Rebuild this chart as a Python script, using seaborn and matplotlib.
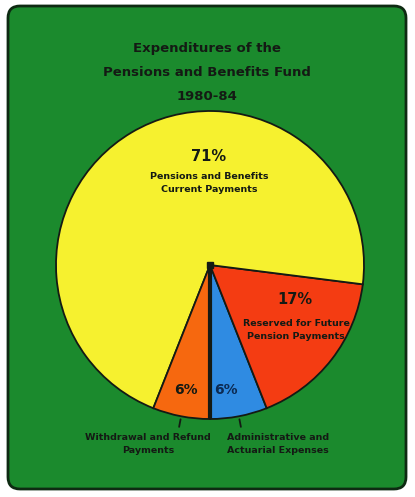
"""Pie chart: Expenditures of the Pensions and Benefits Fund, 1980-84."""

import matplotlib.pyplot as plt
import numpy as np
import seaborn as sns
from matplotlib.patches import FancyBboxPatch

# --- data -------------------------------------------------------------
categories = [
    "Administrative and\nActuarial Expenses",
    "Reserved for Future\nPension Payments",
    "Pensions and Benefits\nCurrent Payments",
    "Withdrawal and Refund\nPayments",
]
shares = [6, 17, 71, 6]
slice_colors = ["#2f8be2", "#f43c12", "#f6f12f", "#f6680f"]

TITLE = "Expenditures of the\nPensions and Benefits Fund\n1980-84"
GREEN = "#1b8a2d"
INK = "#141a14"

sns.set_theme(style="white")
plt.rcParams["font.family"] = ["DejaVu Sans"]

W, H = 415, 497
fig = plt.figure(figsize=(W / 100, H / 100), dpi=100)
fig.patch.set_facecolor("white")


def px(x, y):
    """Pixel position (top-left origin) -> figure fraction."""
    return x / W, 1 - y / H


# green rounded panel
bg = fig.add_axes([0, 0, 1, 1])
bg.set_xlim(0, W)
bg.set_ylim(H, 0)
bg.axis("off")
bg.add_patch(FancyBboxPatch((8, 6), 398, 483, boxstyle="round,pad=0,rounding_size=12",
                            facecolor=GREEN, edgecolor="#0e2a12", linewidth=2))

# pie axes: centre ~ (210, 265) px, radius ~154 px
cx, cy, r = 210, 265, 154
ax = fig.add_axes([(cx - r) / W, (H - cy - r) / H, 2 * r / W, 2 * r / H])
wedges, _ = ax.pie(shares, colors=slice_colors, startangle=270, counterclock=True,
                   radius=1, wedgeprops=dict(edgecolor=INK, linewidth=1.3))
ax.set_xlim(-1, 1)
ax.set_ylim(-1, 1)
ax.axis("off")
ax.plot([0, 0], [0, -1], color=INK, linewidth=3, solid_capstyle="butt", clip_on=False)
ax.plot(0, 0, "s", color=INK, markersize=4)

# small leader ticks under the two small slices
for w in (wedges[0], wedges[3]):
    mid = np.deg2rad((w.theta1 + w.theta2) / 2)
    ax.plot([1.02 * np.cos(mid), 1.07 * np.cos(mid)],
            [1.02 * np.sin(mid), 1.07 * np.sin(mid)], color=INK, linewidth=1.3,
            clip_on=False)

# title
fig.text(*px(207, 72), TITLE, ha="center", va="center", fontsize=9.5,
         fontweight="bold", color=INK, linespacing=2.1)

# slice labels
fig.text(*px(209, 156), f"{shares[2]}%", ha="center", va="center",
         fontsize=10.5, fontweight="bold", color=INK)
fig.text(*px(209, 183), categories[2], ha="center", va="center",
         fontsize=6.8, fontweight="bold", color=INK, linespacing=1.45)

fig.text(*px(295, 300), f"{shares[1]}%", ha="center", va="center",
         fontsize=10.5, fontweight="bold", color=INK)
fig.text(*px(296, 330), categories[1], ha="center", va="center",
         fontsize=6.8, fontweight="bold", color=INK, linespacing=1.45)

fig.text(*px(186, 390), f"{shares[3]}%", ha="center", va="center",
         fontsize=10, fontweight="bold", color=INK)
fig.text(*px(226, 390), f"{shares[0]}%", ha="center", va="center",
         fontsize=10, fontweight="bold", color="#0c2a52")

fig.text(*px(148, 444), categories[3], ha="center", va="center",
         fontsize=6.8, fontweight="bold", color=INK, linespacing=1.65)
fig.text(*px(278, 444), categories[0], ha="center", va="center",
         fontsize=6.8, fontweight="bold", color=INK, linespacing=1.65)

fig.savefig("out.png", dpi=100, facecolor=fig.get_facecolor())
